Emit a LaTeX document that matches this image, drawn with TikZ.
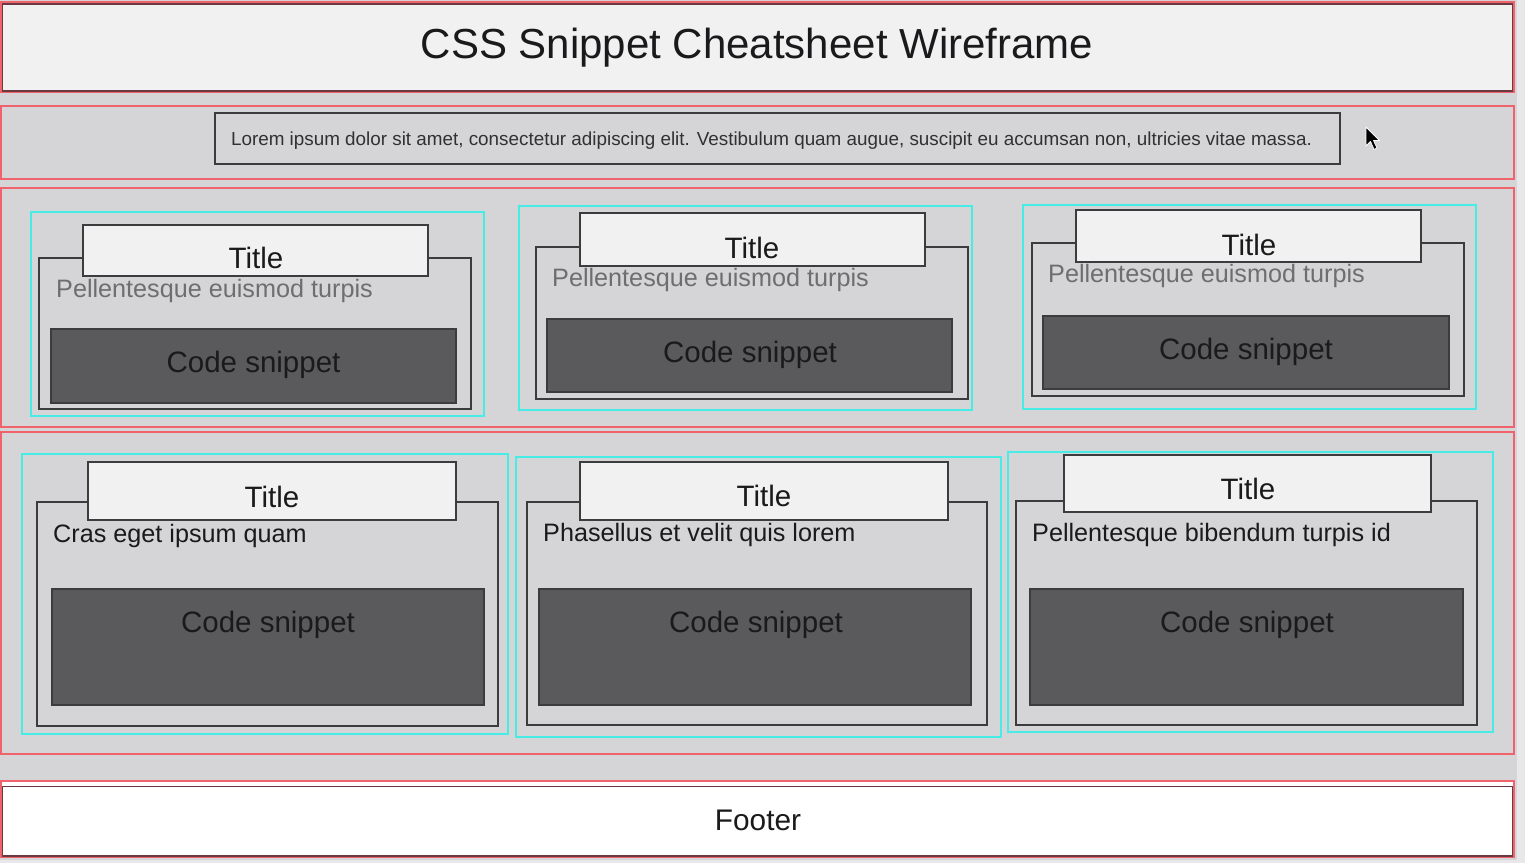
\documentclass[tikz,border=0pt]{standalone}
\usepackage{fontspec}
\setmainfont{Liberation Sans}
\begin{document}
\definecolor{pagebg}{HTML}{D5D4D6}
\definecolor{edgebg}{HTML}{E8E8EA}
\definecolor{paper}{HTML}{F2F1F2}
\definecolor{secred}{HTML}{F0626C}
\definecolor{hdrdark}{HTML}{6A3A42}
\definecolor{cardcyan}{HTML}{45EDE6}
\definecolor{boxline}{HTML}{3C3C3E}
\definecolor{codefill}{HTML}{5A595C}
\definecolor{subgray}{HTML}{6E6E70}
\definecolor{ink}{HTML}{1A1A1C}
\begin{tikzpicture}[x=1pt,y=-1pt,
  section/.style={draw=secred, line width=1.8pt},
  card/.style={draw=cardcyan, line width=1.6pt},
  panel/.style={draw=boxline, line width=1.4pt},
  titlebox/.style={draw=boxline, line width=1.4pt, fill=paper},
  codebox/.style={draw=boxline, line width=1.6pt, fill=codefill},
  titletext/.style={inner sep=0pt, anchor=base, text=ink, font=\fontsize{29.5}{32}\selectfont},
  codetext/.style={inner sep=0pt, anchor=base, text=ink, font=\fontsize{29.5}{33}\selectfont},
  subtext/.style={inner sep=0pt, anchor=base west, font=\fontsize{25.2}{29}\selectfont},
  box/.style={inner sep=0pt, outer sep=0pt, anchor=north west}
]
% canvas
\fill[edgebg] (0,0) rectangle (1525,863);
\fill[pagebg] (0,0) rectangle (1517,860);
\useasboundingbox (0,0) rectangle (1525,863);

% header
\node[box, fill=paper, draw=secred, line width=1.8pt, minimum width=1513pt, minimum height=90pt] (header) at (1,2) {};
\draw[hdrdark, line width=1.2pt] (2.5,4) rectangle (1512.5,91);
\node[inner sep=0pt, anchor=base, text=ink, font=\fontsize{42}{46}\selectfont] (headtitle) at (757,58) {CSS Snippet Cheatsheet Wireframe};

% intro band
\node[box, section, minimum width=1513pt, minimum height=73pt] (intro) at (1,106) {};
\node[box, draw=boxline, line width=1.5pt, minimum width=1125pt, minimum height=51pt] (introbox) at (215,113) {};
\node[inner sep=0pt, anchor=base, text=ink!90, font=\fontsize{18.85}{22}\selectfont] (introtext) at (771.5,145) {Lorem ipsum dolor sit amet, consectetur adipiscing elit. Vestibulum quam augue, suscipit eu accumsan non, ultricies vitae massa.};

% pointer
\filldraw[fill=black, draw=white, line width=0.8pt, line join=round]
  (1366,127) -- (1366,146) -- (1370.5,141.5) -- (1374,149.5) -- (1377,148) -- (1373.5,140.5) -- (1379.5,140.5) -- cycle;

% first row of cards
\node[box, section, minimum width=1513pt, minimum height=239pt] (rowA) at (1,188) {};

\node[box, card, minimum width=453pt, minimum height=204pt] (cardA) at (31,212) {};
\node[box, panel, minimum width=432pt, minimum height=151pt] (panelA) at (39,258) {};
\node[box, titlebox, minimum width=345pt, minimum height=51pt] (headA) at (83,225) {};
\node[titletext] (titleA) at (256,268) {Title};
\node[subtext, text=subgray] (subA) at (56,297) {Pellentesque euismod turpis};
\node[box, codebox, minimum width=405pt, minimum height=74pt] (codeA) at (51,329) {};
\node[codetext] (codeAtxt) at (253.5,372) {Code snippet};

\node[box, card, minimum width=453pt, minimum height=204pt] (cardB) at (519,206) {};
\node[box, panel, minimum width=432pt, minimum height=152pt] (panelB) at (536,247) {};
\node[box, titlebox, minimum width=345pt, minimum height=53pt] (headB) at (580,213) {};
\node[titletext] (titleB) at (752,258) {Title};
\node[subtext, text=subgray] (subB) at (552,286) {Pellentesque euismod turpis};
\node[box, codebox, minimum width=405pt, minimum height=73pt] (codeB) at (547,319) {};
\node[codetext] (codeBtxt) at (750,362) {Code snippet};

\node[box, card, minimum width=453pt, minimum height=204pt] (cardC) at (1023,205) {};
\node[box, panel, minimum width=432pt, minimum height=153pt] (panelC) at (1032,243) {};
\node[box, titlebox, minimum width=345pt, minimum height=52pt] (headC) at (1076,210) {};
\node[titletext] (titleC) at (1249,255) {Title};
\node[subtext, text=subgray] (subC) at (1048,282) {Pellentesque euismod turpis};
\node[box, codebox, minimum width=406pt, minimum height=73pt] (codeC) at (1043,316) {};
\node[codetext] (codeCtxt) at (1246,359) {Code snippet};

% second row of cards
\node[box, section, minimum width=1513pt, minimum height=322pt] (rowB) at (1,432) {};

\node[box, card, minimum width=486pt, minimum height=280pt] (cardD) at (22,454) {};
\node[box, panel, minimum width=461pt, minimum height=224pt] (panelD) at (37,502) {};
\node[box, titlebox, minimum width=368pt, minimum height=58pt] (headD) at (88,462) {};
\node[titletext] (titleD) at (272,507) {Title};
\node[subtext, text=ink] (subD) at (53,542) {Cras eget ipsum quam};
\node[box, codebox, minimum width=432pt, minimum height=116pt] (codeD) at (52,589) {};
\node[codetext] (codeDtxt) at (268,632) {Code snippet};

\node[box, card, minimum width=485pt, minimum height=280pt] (cardE) at (516,457) {};
\node[box, panel, minimum width=460pt, minimum height=223pt] (panelE) at (527,502) {};
\node[box, titlebox, minimum width=368pt, minimum height=58pt] (headE) at (580,462) {};
\node[titletext] (titleE) at (764,506) {Title};
\node[subtext, text=ink] (subE) at (543,541) {Phasellus et velit quis lorem};
\node[box, codebox, minimum width=432pt, minimum height=116pt] (codeE) at (539,589) {};
\node[codetext] (codeEtxt) at (756,632) {Code snippet};

\node[box, card, minimum width=485pt, minimum height=280pt] (cardF) at (1008,452) {};
\node[box, panel, minimum width=461pt, minimum height=224pt] (panelF) at (1016,501) {};
\node[box, titlebox, minimum width=367pt, minimum height=57pt] (headF) at (1064,455) {};
\node[titletext] (titleF) at (1248,499) {Title};
\node[subtext, text=ink] (subF) at (1032,541) {Pellentesque bibendum turpis id};
\node[box, codebox, minimum width=433pt, minimum height=116pt] (codeF) at (1030,589) {};
\node[codetext] (codeFtxt) at (1247,632) {Code snippet};

% footer
\node[box, fill=white, draw=secred, line width=1.6pt, minimum width=1513pt, minimum height=76pt] (footer) at (1,781) {};
\draw[hdrdark, line width=1.6pt] (2.5,786.5) rectangle (1512.5,856);
\node[inner sep=0pt, anchor=base, text=ink, font=\fontsize{29.8}{33}\selectfont] (foottext) at (758,830) {Footer};
\end{tikzpicture}
\end{document}
